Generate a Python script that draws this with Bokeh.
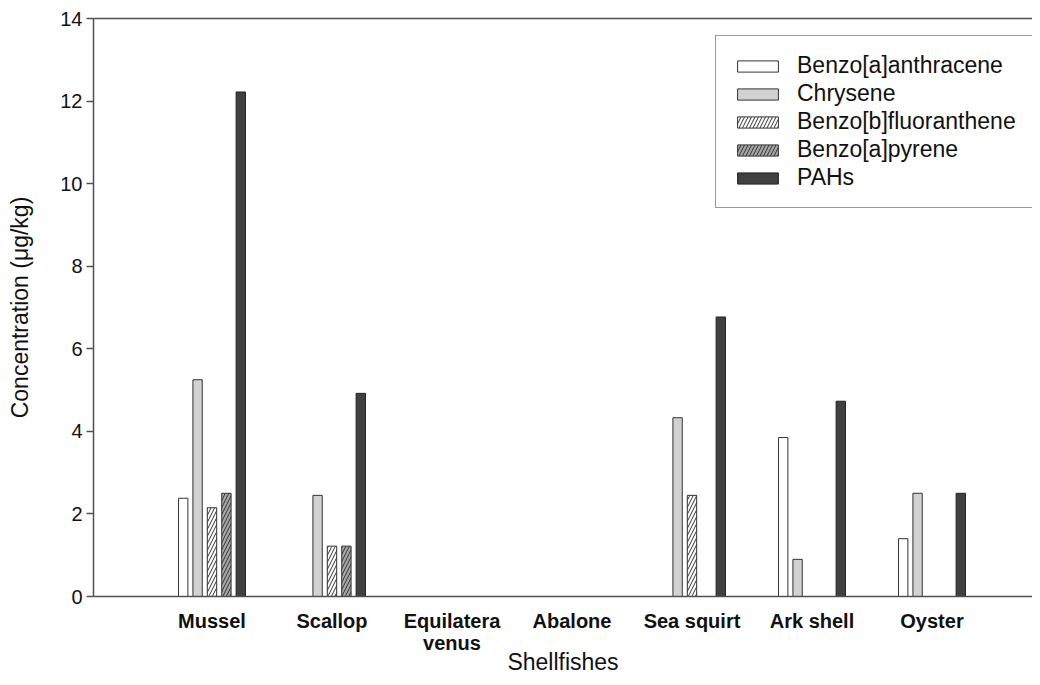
from bokeh.plotting import figure
from bokeh.models import ColumnDataSource, Range1d, LinearAxis, FixedTicker, Legend, LegendItem
from bokeh.transform import dodge
from bokeh.embed import file_html
from bokeh.resources import INLINE

# ---- data ----
shellfishes = ["Mussel", "Scallop", "Equilatera\nvenus", "Abalone", "Sea squirt", "Ark shell", "Oyster"]
benzo_a_anthracene = [2.38, 0, 0, 0, 0, 3.85, 1.40]
chrysene = [5.25, 2.45, 0, 0, 4.33, 0.90, 2.50]
benzo_b_fluoranthene = [2.15, 1.22, 0, 0, 2.45, 0, 0]
benzo_a_pyrene = [2.50, 1.22, 0, 0, 0, 0, 0]
pahs = [12.22, 4.92, 0, 0, 6.77, 4.73, 2.50]
series_names = ["Benzo[a]anthracene", "Chrysene", "Benzo[b]fluoranthene", "Benzo[a]pyrene", "PAHs"]
y_ticks = [0, 2, 4, 6, 8, 10, 12, 14]

FONT = "Liberation Sans"
AXIS_COLOR = "#505050"

p = figure(width=1032, height=677,
           x_range=Range1d(-0.9875, 6.8375), y_range=Range1d(0, 14),
           output_backend="svg", toolbar_location=None,
           min_border_left=93, min_border_top=18, min_border_right=0, min_border_bottom=10,
           x_axis_label="Shellfishes", y_axis_label="Concentration (μg/kg)")
p.xgrid.visible = False
p.ygrid.visible = False
p.outline_line_color = None
p.background_fill_color = "white"
p.border_fill_color = "white"

styles = [
    dict(fill_color="white", line_color="#333333"),
    dict(fill_color="#d2d2d2", line_color="#333333"),
    dict(fill_color="white", line_color="#333333", hatch_pattern="/", hatch_color="#333333", hatch_scale=7, hatch_weight=1),
    dict(fill_color="#a6a6a6", line_color="#333333", hatch_pattern="/", hatch_color="#333333", hatch_scale=7, hatch_weight=1),
    dict(fill_color="#404040", line_color="#222222"),
]
offsets = [-0.24, -0.12, 0.0, 0.12, 0.24]
all_series = [benzo_a_anthracene, chrysene, benzo_b_fluoranthene, benzo_a_pyrene, pahs]

items = []
for name, vals, off, st in zip(series_names, all_series, offsets, styles):
    xs = [i for i, v in enumerate(vals) if v > 0]
    ys = [v for v in vals if v > 0]
    src = ColumnDataSource(dict(x=xs, top=ys))
    r = p.vbar(x=dodge("x", off), top="top", bottom=0, width=0.078, source=src,
               line_width=1, **st)
    items.append(LegendItem(label=name, renderers=[r]))

legend = Legend(items=items, location=(622, 388))
legend.label_text_font = FONT
legend.label_text_font_size = "23px"
legend.label_text_color = "#111111"
legend.glyph_width = 51
legend.glyph_height = 14
legend.label_standoff = 14
legend.label_width = 221
legend.padding = 16
legend.spacing = 1
legend.margin = 0
legend.border_line_color = "#333333"
legend.border_line_width = 1
legend.background_fill_alpha = 1
p.add_layout(legend)

# x axis
xa = p.xaxis[0]
xa.ticker = FixedTicker(ticks=list(range(len(shellfishes))))
xa.major_label_overrides = {i: s for i, s in enumerate(shellfishes)}
xa.major_tick_line_color = None
xa.minor_tick_line_color = None
xa.major_label_text_font = FONT
xa.major_label_text_font_style = "bold"
xa.major_label_text_font_size = "20px"
xa.major_label_text_line_height = 1.0
xa.major_label_text_color = "#111111"
xa.major_label_standoff = 7
xa.axis_line_color = AXIS_COLOR
xa.axis_line_width = 1.5
xa.axis_label_text_font = FONT
xa.axis_label_text_font_style = "normal"
xa.axis_label_text_font_size = "23px"
xa.axis_label_text_color = "#111111"
xa.axis_label_standoff = -8

# y axis
ya = p.yaxis[0]
ya.ticker = FixedTicker(ticks=y_ticks)
ya.minor_tick_line_color = None
ya.major_tick_in = 0
ya.major_tick_out = 7
ya.major_tick_line_color = AXIS_COLOR
ya.major_tick_line_width = 1.5
ya.axis_line_color = AXIS_COLOR
ya.axis_line_width = 1.5
ya.major_label_text_font = FONT
ya.major_label_text_font_size = "20px"
ya.major_label_text_color = "#111111"
ya.major_label_standoff = 4
ya.axis_label_text_font = FONT
ya.axis_label_text_font_style = "normal"
ya.axis_label_text_font_size = "23px"
ya.axis_label_text_color = "#111111"
ya.axis_label_standoff = 24

# top frame line
top = LinearAxis(major_tick_line_color=None, minor_tick_line_color=None,
                 major_label_text_font_size="0px", axis_line_color=AXIS_COLOR,
                 axis_line_width=1.5, ticker=FixedTicker(ticks=[]))
p.add_layout(top, "above")

open("out.html", "w").write(file_html(p, INLINE))
